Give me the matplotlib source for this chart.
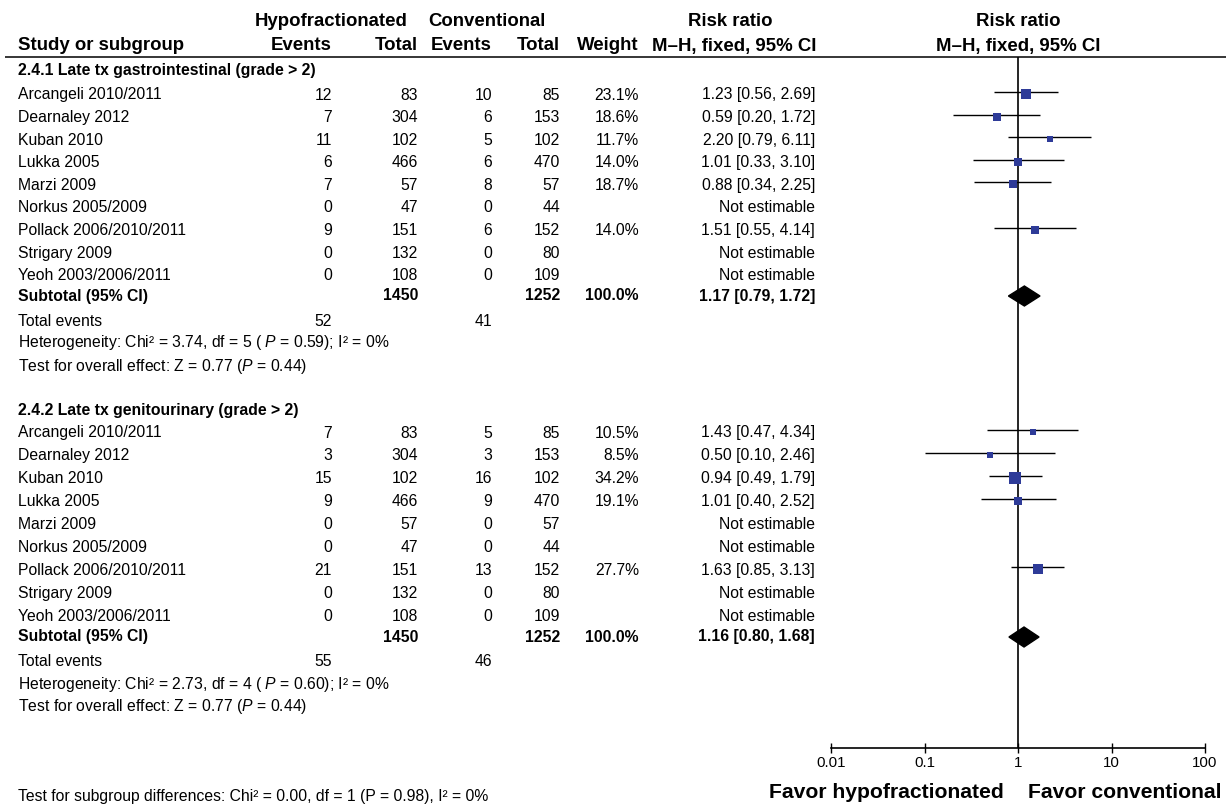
import numpy as np
import matplotlib
matplotlib.use("Agg")
import matplotlib.pyplot as plt
from matplotlib.patches import Polygon
from matplotlib.ticker import NullLocator

plt.rcParams['font.family'] = ['Liberation Sans', 'DejaVu Sans']
plt.rcParams['mathtext.fontset'] = 'custom'
plt.rcParams['mathtext.rm'] = 'Liberation Sans'
plt.rcParams['mathtext.it'] = 'Liberation Sans:italic'

# ---- data ----
studies = ["Arcangeli 2010/2011", "Dearnaley 2012", "Kuban 2010", "Lukka 2005",
           "Marzi 2009", "Norkus 2005/2009", "Pollack 2006/2010/2011",
           "Strigary 2009", "Yeoh 2003/2006/2011"]
hypo_total = [83, 304, 102, 466, 57, 47, 151, 132, 108]
conv_total = [85, 153, 102, 470, 57, 44, 152, 80, 109]

# 2.4.1 gastrointestinal
gi_hypo_events = [12, 7, 11, 6, 7, 0, 9, 0, 0]
gi_conv_events = [10, 6, 5, 6, 8, 0, 6, 0, 0]
gi_weight = [23.1, 18.6, 11.7, 14.0, 18.7, None, 14.0, None, None]
gi_rr = [1.23, 0.59, 2.20, 1.01, 0.88, None, 1.51, None, None]
gi_lo = [0.56, 0.20, 0.79, 0.33, 0.34, None, 0.55, None, None]
gi_hi = [2.69, 1.72, 6.11, 3.10, 2.25, None, 4.14, None, None]
gi_pooled = [1.17, 0.79, 1.72]
gi_total_events = [52, 41]
gi_het = "Heterogeneity: Chi² = 3.74, df = 5 ( $P$ = 0.59); I² = 0%"
gi_effect = "Test for overall effect: Z = 0.77 ($P$ = 0.44)"

# 2.4.2 genitourinary
gu_hypo_events = [7, 3, 15, 9, 0, 0, 21, 0, 0]
gu_conv_events = [5, 3, 16, 9, 0, 0, 13, 0, 0]
gu_weight = [10.5, 8.5, 34.2, 19.1, None, None, 27.7, None, None]
gu_rr = [1.43, 0.50, 0.94, 1.01, None, None, 1.63, None, None]
gu_lo = [0.47, 0.10, 0.49, 0.40, None, None, 0.85, None, None]
gu_hi = [4.34, 2.46, 1.79, 2.52, None, None, 3.13, None, None]
gu_pooled = [1.16, 0.80, 1.68]
gu_total_events = [55, 46]
gu_het = "Heterogeneity: Chi² = 2.73, df = 4 ( $P$ = 0.60); I² = 0%"
gu_effect = "Test for overall effect: Z = 0.77 ($P$ = 0.44)"

subtotal_n = [1450, 1252]
axis_ticks = [0.01, 0.1, 1, 10, 100]
axis_labels = ["0.01", "0.1", "1", "10", "100"]

# ---- layout (pixels) ----
W, H = 1226, 808
BODY, HEAD, FAVOR = 11.3, 13.4, 15.2
SQ_COLOR = "#2e3b98"
X_NAME, X_EVH, X_TOTH, X_EVC, X_TOTC, X_WT, X_RR = 18, 332, 418, 492, 560, 639, 815

fig = plt.figure(figsize=(W / 100, H / 100), dpi=100)
tx = fig.add_axes([0, 0, 1, 1])
tx.set_xlim(0, W)
tx.set_ylim(H, 0)
tx.axis('off')

ax0, ax1, axis_y = 831, 1205, 748
fp = fig.add_axes([ax0 / W, 0, (ax1 - ax0) / W, 1])
fp.set_xscale('log')
fp.set_xlim(0.01, 100)
fp.set_ylim(H, 0)
fp.patch.set_visible(False)
for s in ['top', 'left', 'right']:
    fp.spines[s].set_visible(False)
fp.spines['bottom'].set_position(('data', axis_y))
fp.spines['bottom'].set_linewidth(1.2)
fp.set_xticks(axis_ticks)
fp.set_xticklabels(axis_labels)
fp.xaxis.set_minor_locator(NullLocator())
fp.set_yticks([])
fp.tick_params(axis='x', direction='inout', length=7, width=1.0, labelsize=10.8, pad=2)


def t(x, y, s, ha='right', bold=False, size=BODY):
    tx.text(x, y, s, ha=ha, va='center', fontsize=size,
            fontweight='bold' if bold else 'normal')


# header
t(331, 21, "Hypofractionated", ha='center', bold=True, size=HEAD)
t(487, 21, "Conventional", ha='center', bold=True, size=HEAD)
t(730, 21, "Risk ratio", ha='center', bold=True, size=HEAD)
t(1018, 21, "Risk ratio", ha='center', bold=True, size=HEAD)
t(X_NAME, 46, "Study or subgroup", ha='left', bold=True, size=HEAD)
t(X_EVH, 46, "Events", bold=True, size=HEAD)
t(X_TOTH, 46, "Total", bold=True, size=HEAD)
t(X_EVC, 46, "Events", bold=True, size=HEAD)
t(X_TOTC, 46, "Total", bold=True, size=HEAD)
t(X_WT, 46, "Weight", bold=True, size=HEAD)
t(X_RR + 1, 46, "M–H, fixed, 95% CI", bold=True, size=HEAD)
t(1018, 46, "M–H, fixed, 95% CI", ha='center', bold=True, size=HEAD)
tx.hlines(57, 5, W, color='black', lw=1.1)

groups = [
    ("2.4.1 Late tx gastrointestinal (grade > 2)", gi_hypo_events, gi_conv_events,
     gi_weight, gi_rr, gi_lo, gi_hi, gi_pooled, gi_total_events, gi_het, gi_effect,
     (71, 95, 22.6, 296, 321, 343, 366)),
    ("2.4.2 Late tx genitourinary (grade > 2)", gu_hypo_events, gu_conv_events,
     gu_weight, gu_rr, gu_lo, gu_hi, gu_pooled, gu_total_events, gu_het, gu_effect,
     (410, 433, 22.9, 637, 662, 685, 707)),
]

for (title, ev_h, ev_c, wt, rr, lo, hi, pooled, tot_ev, het, eff, lay) in groups:
    y_head, y0, step, y_sub, y_tot, y_het, y_eff = lay
    t(X_NAME, y_head, title, ha='left', bold=True)
    for i, name in enumerate(studies):
        y = y0 + i * step
        t(X_NAME, y, name, ha='left')
        t(X_EVH, y, str(ev_h[i]))
        t(X_TOTH, y, str(hypo_total[i]))
        t(X_EVC, y, str(ev_c[i]))
        t(X_TOTC, y, str(conv_total[i]))
        if rr[i] is None:
            t(X_RR, y, "Not estimable")
            continue
        t(X_WT, y, f"{wt[i]:.1f}%")
        t(X_RR, y, f"{rr[i]:.2f} [{lo[i]:.2f}, {hi[i]:.2f}]")
        # CI line sits a little above the text centre, box just under the line
        fp.hlines(y - 3, lo[i], hi[i], color='black', lw=1.0, zorder=2)
        side = 1.9 * np.sqrt(wt[i]) * 0.72
        fp.plot(rr[i], y - 1, 's', ms=side, color=SQ_COLOR, mec=SQ_COLOR, mew=0, zorder=3)
    # subtotal
    t(X_NAME, y_sub, "Subtotal (95% CI)", ha='left', bold=True)
    t(X_TOTH, y_sub, str(subtotal_n[0]), bold=True)
    t(X_TOTC, y_sub, str(subtotal_n[1]), bold=True)
    t(X_WT, y_sub, "100.0%", bold=True)
    t(X_RR, y_sub, f"{pooled[0]:.2f} [{pooled[1]:.2f}, {pooled[2]:.2f}]", bold=True)
    dh = 10
    fp.add_patch(Polygon([(pooled[1], y_sub), (pooled[0], y_sub - dh),
                          (pooled[2], y_sub), (pooled[0], y_sub + dh)],
                         closed=True, color='black', zorder=3))
    t(X_NAME, y_tot, "Total events", ha='left')
    t(X_EVH, y_tot, str(tot_ev[0]))
    t(X_EVC, y_tot, str(tot_ev[1]))
    t(X_NAME, y_het, het, ha='left')
    t(X_NAME, y_eff, eff, ha='left')

# line of no effect
fp.vlines(1, 57, axis_y, color='black', lw=1.2, zorder=1)

t(1004, 792, "Favor hypofractionated", bold=True, size=FAVOR)
t(1028, 792, "Favor conventional", ha='left', bold=True, size=FAVOR)
t(X_NAME, 797, "Test for subgroup differences: Chi² = 0.00, df = 1 (P = 0.98), I² = 0%", ha='left')

fig.savefig("out.png", dpi=100)
